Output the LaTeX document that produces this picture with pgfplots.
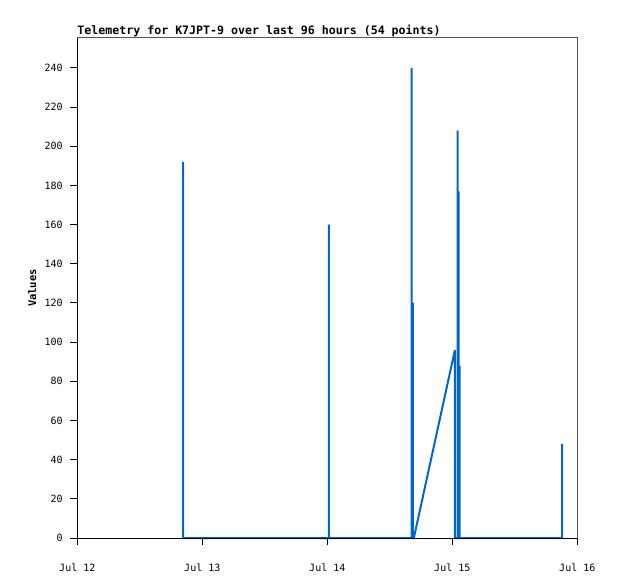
\documentclass[border=0pt]{standalone}
\usepackage{fontspec}
\setmainfont{DejaVu Sans Mono}
\usepackage{pgfplots}
\pgfplotsset{compat=1.18}
\definecolor{lineblue}{HTML}{0066CC}
\definecolor{axgray}{HTML}{555555}
\begin{document}
\begin{tikzpicture}
\begin{axis}[
  name=ax,
  scale only axis, width=500pt, height=500pt,
  xmin=0, xmax=96, ymin=0, ymax=255.3,
  axis x line*=bottom, axis y line*=left,
  axis line style={-, black, line width=1pt},
  xtick={0,24,48,72,96},
  xticklabels={Jul 12,Jul 13,Jul 14,Jul 15,Jul 16},
  ytick={0,20,...,240},
  tick align=outside, major tick length=7pt,
  tick style={black, line width=1pt},
  /pgf/number format/assume math mode=true,
  ticklabel style={font=\fontsize{10}{12}\selectfont},
  yticklabel style={xshift=-4pt},
  xticklabel style={yshift=-15pt},
  ylabel={\bfseries Values},
  ylabel style={at={(axis description cs:-0.09,0.5)}, anchor=center, font=\fontsize{10.5}{12}\selectfont},
  title={\bfseries Telemetry for K7JPT-9 over last 96 hours (54 points)},
  title style={at={(axis description cs:0,1)}, anchor=base west, yshift=-2.5pt, inner sep=0pt, font=\fontsize{11.6}{13}\selectfont},
  clip=false,
  axis on top,
]
\draw[axgray, line width=1pt] (rel axis cs:0,1) -- (rel axis cs:1,1) -- (rel axis cs:1,0);
\addplot[sharp plot, no markers, lineblue, line width=2pt, line join=bevel] coordinates {
(20.30,192) (20.30,0) (22,0) (25,0) (28,0) (31,0) (34,0) (37,0) (40,0) (43,0) (46,0)
(48.30,0) (48.30,160) (48.30,0)
(51,0) (54,0) (57,0) (60,0) (63,0)
(64.20,0) (64.20,240) (64.20,0) (64.45,0) (64.45,120) (64.45,0) (64.62,0)
(72.50,96) (72.50,0)
(73.00,0) (73.00,208) (73.00,0) (73.20,0) (73.20,177) (73.20,0) (73.40,0) (73.40,88) (73.40,0)
(76,0) (79,0) (82,0) (85,0) (88,0) (91,0) (93.10,0) (93.10,48)
};
\end{axis}
\path ([shift={(-77.3pt,-41pt)}]ax.south west) rectangle ([shift={(40.7pt,38pt)}]ax.north east);
\end{tikzpicture}
\end{document}
